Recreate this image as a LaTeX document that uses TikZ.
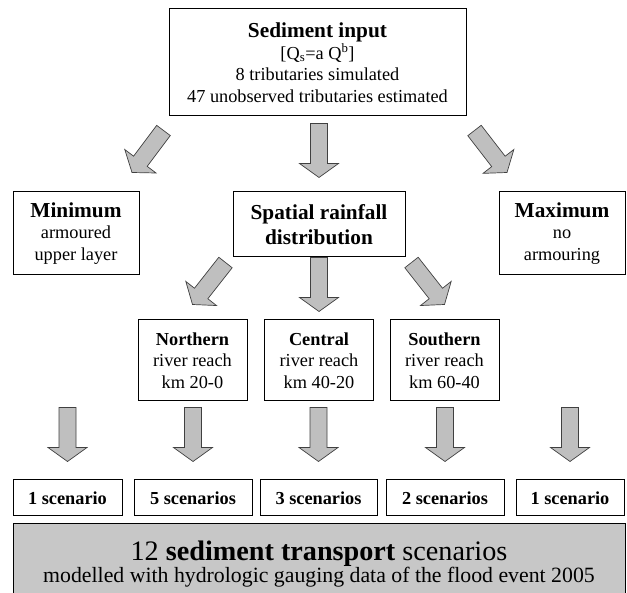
\documentclass[tikz,border=0pt]{standalone}
\usepackage{fontspec}
\setmainfont{Liberation Serif}
\usepackage{tikz}
\usetikzlibrary{calc,positioning}
\definecolor{arrowcolor}{rgb}{0.75,0.75,0.75}
\definecolor{totalcolor}{rgb}{0.78,0.78,0.78}
\newcommand{\bodysize}{\fontsize{18.3}{21.5}\selectfont}
\newcommand{\headsize}{\fontsize{21.3}{24.5}\selectfont}
\newcommand{\fatarrow}[2]{%
  \draw[fatarrow] ($(#1)!8.5pt!90:(#2)$) -- ($(#1)!8.5pt!-90:(#2)$)
    -- ($(#2)!14pt!(#1)!8.5pt!-90:(#2)$) -- ($(#2)!14pt!(#1)!19.5pt!-90:(#2)$)
    -- (#2) -- ($(#2)!14pt!(#1)!19.5pt!90:(#2)$)
    -- ($(#2)!14pt!(#1)!8.5pt!90:(#2)$) -- cycle;}

\begin{document}
\begin{tikzpicture}[x=1pt,y=1pt,
                    box/.style={draw, line width=1pt, align=center, inner sep=0pt, font=\bodysize},
                    fatarrow/.style={draw=black!75, line width=0.7pt, fill=arrowcolor}]
  \useasboundingbox (0,0) rectangle (627,-593);

  \node[box, minimum width=297pt, minimum height=107pt] (input) at (317.5,-62.5)
    {{\headsize\bfseries Sediment input}\\ {[}Q\textsubscript{s}=a Q\textsuperscript{b}{]}\\ 8 tributaries simulated\\ 47 unobserved tributaries estimated};

  \node[box, minimum width=126pt, minimum height=83pt] (minimum) at (76,-233.5)
    {{\headsize\bfseries Minimum}\\ armoured\\ upper layer};
  \node[box, minimum width=172pt, minimum height=65pt, font=\headsize\bfseries] (spatial) at (319,-224.5)
    {Spatial rainfall\\ distribution};
  \node[box, minimum width=126pt, minimum height=83pt] (maximum) at (562,-233.5)
    {{\headsize\bfseries Maximum}\\ no\\ armouring};

  \node[box, minimum width=109pt, minimum height=81pt] (north) at (192.5,-360.5)
    {\textbf{Northern}\\ river reach\\ km 20-0};
  \node[box, minimum width=109pt, minimum height=81pt] (central) at (319,-360.5)
    {\textbf{Central}\\ river reach\\ km 40-20};
  \node[box, minimum width=109pt, minimum height=81pt] (south) at (444.5,-360.5)
    {\textbf{Southern}\\ river reach\\ km 60-40};

  \node[box, minimum width=109pt, minimum height=36pt, font=\bodysize\bfseries] (s1) at (67.5,-498) {1 scenario};
  \node[box, minimum width=118pt, minimum height=36pt, font=\bodysize\bfseries] (s2) at (193,-498) {5 scenarios};
  \node[box, minimum width=117pt, minimum height=36pt, font=\bodysize\bfseries] (s3) at (318.5,-498) {3 scenarios};
  \node[box, minimum width=118pt, minimum height=36pt, font=\bodysize\bfseries] (s4) at (445,-498) {2 scenarios};
  \node[box, minimum width=108pt, minimum height=36pt, font=\bodysize\bfseries] (s5) at (570,-498) {1 scenario};

  \node[box, fill=totalcolor, minimum width=612pt, minimum height=80pt] (total) at (319,-564)
    {{\fontsize{28.2}{28}\selectfont 12 \textbf{sediment transport} scenarios}\\
     {\fontsize{21.8}{28}\selectfont modelled with hydrologic gauging data of the flood event 2005}};

  \coordinate (a1tail) at ($(input.south west)+(-5,-14)$);
  \coordinate (a1tip)  at ($(minimum.north)+(56,19)$);
  \coordinate (a2tail) at ($(spatial.north)+(0,68)$);
  \coordinate (a2tip)  at ($(spatial.north)+(0,14)$);
  \coordinate (a3tail) at ($(input.south east)+(8,-14)$);
  \coordinate (a3tip)  at ($(maximum.north)+(-55,19)$);
  \coordinate (b1tail) at ($(spatial.south west)+(-7,-5)$);
  \coordinate (b1tip)  at ($(north.north)+(0,15)$);
  \coordinate (b3tail) at ($(spatial.south east)+(6,-5)$);
  \coordinate (b3tip)  at ($(south.north)+(0,15)$);
  \coordinate (b2tip)  at ($(central.north)+(0,8)$);

  \fatarrow{a1tail}{a1tip}
  \fatarrow{a2tail}{a2tip}
  \fatarrow{a3tail}{a3tip}
  \fatarrow{b1tail}{b1tip}
  \fatarrow{spatial.south}{b2tip}
  \fatarrow{b3tail}{b3tip}

  \foreach \s in {s1,s2,s3,s4,s5} {
    \coordinate (\s top) at ($(\s.north)+(0,72)$);
    \coordinate (\s tip) at ($(\s.north)+(0,18)$);
    \fatarrow{\s top}{\s tip}
  }
\end{tikzpicture}
\end{document}
